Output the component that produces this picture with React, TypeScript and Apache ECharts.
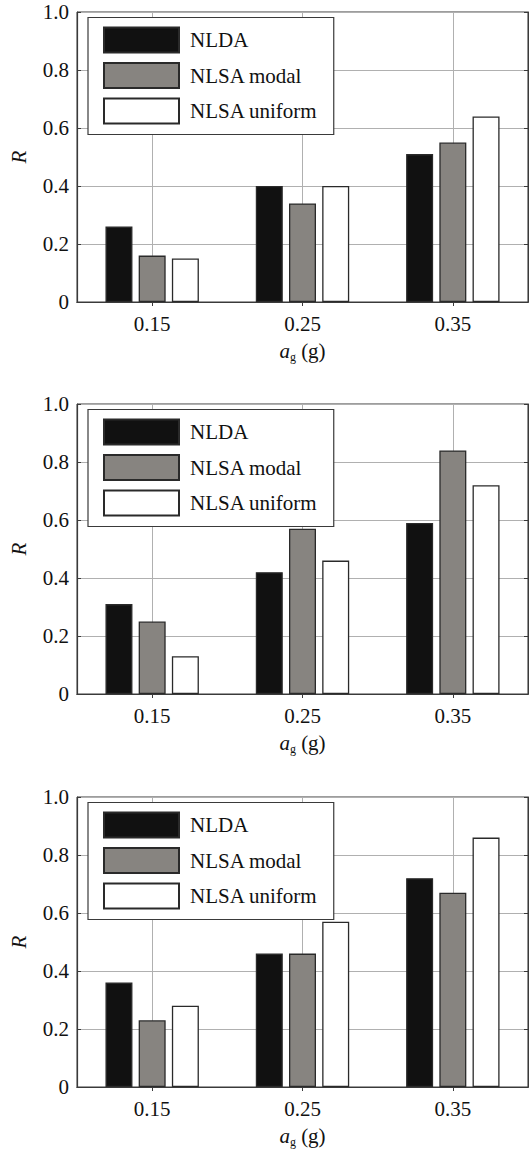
import React, { useEffect, useRef } from "react";
import * as echarts from "echarts";

const categories = ["0.15", "0.25", "0.35"];
const seriesNames = ["NLDA", "NLSA modal", "NLSA uniform"];

const p1NLDA = [0.26, 0.40, 0.51];
const p1Modal = [0.16, 0.34, 0.55];
const p1Uniform = [0.15, 0.40, 0.64];

const p2NLDA = [0.31, 0.42, 0.59];
const p2Modal = [0.25, 0.57, 0.84];
const p2Uniform = [0.13, 0.46, 0.72];

const p3NLDA = [0.36, 0.46, 0.72];
const p3Modal = [0.23, 0.46, 0.67];
const p3Uniform = [0.28, 0.57, 0.86];

const panels = [
  [p1NLDA, p1Modal, p1Uniform],
  [p2NLDA, p2Modal, p2Uniform],
  [p3NLDA, p3Modal, p3Uniform],
];

const gridTops = [12, 404, 797];
const barColors = ["#111111", "#878480", "#ffffff"];
const FONT = "'Liberation Serif', 'DejaVu Serif', serif";
const FS = 21;

export default function App() {
  const ref = useRef<HTMLDivElement>(null);
  useEffect(() => {
    if (!ref.current) return;
    const chart = echarts.init(ref.current, null, { renderer: "svg" });
    const grid: any[] = [];
    const xAxis: any[] = [];
    const yAxis: any[] = [];
    const series: any[] = [];
    const legend: any[] = [];
    panels.forEach((vals, p) => {
      grid.push({
        left: 77,
        right: 1,
        top: gridTops[p],
        height: 290,
        show: true,
        borderColor: "#3a3a3a",
        borderWidth: 1,
        backgroundColor: "transparent",
      });
      xAxis.push({
        type: "category",
        gridIndex: p,
        data: categories,
        position: "bottom",
        boundaryGap: true,
        axisLine: { show: true, lineStyle: { color: "#3a3a3a", width: 1.2 } },
        axisTick: { show: true, inside: true, length: 4, alignWithLabel: true, lineStyle: { color: "#3a3a3a" } },
        splitLine: { show: true, alignWithLabel: true, lineStyle: { color: "#b0b0b0", width: 1 } },
        axisLabel: { color: "#111", fontFamily: FONT, fontSize: FS, margin: 11 },
        name: "{a|a}{g|g}{t| (g)}",
        nameLocation: "middle",
        nameGap: 37,
        nameTextStyle: {
          rich: {
            a: { fontFamily: FONT, fontStyle: "italic", fontSize: FS, color: "#111" },
            g: { fontFamily: FONT, fontSize: 12, color: "#111", padding: [12, 0, 0, 0] },
            t: { fontFamily: FONT, fontSize: FS, color: "#111" },
          },
        },
      });
      xAxis.push({
        type: "category",
        gridIndex: p,
        data: categories,
        position: "top",
        boundaryGap: true,
        axisLine: { show: true, lineStyle: { color: "#3a3a3a", width: 1.2 } },
        axisTick: { show: true, inside: true, length: 4, alignWithLabel: true, lineStyle: { color: "#3a3a3a" } },
        splitLine: { show: false },
        axisLabel: { show: false },
      });
      yAxis.push({
        type: "value",
        gridIndex: p,
        min: 0,
        max: 1,
        interval: 0.2,
        position: "left",
        axisLine: { show: true, lineStyle: { color: "#3a3a3a", width: 1.2 } },
        axisTick: { show: true, inside: true, length: 4, lineStyle: { color: "#3a3a3a" } },
        splitLine: { show: true, lineStyle: { color: "#b0b0b0", width: 1 } },
        axisLabel: {
          color: "#111",
          fontFamily: FONT,
          fontSize: FS,
          margin: 8,
          formatter: (v: number) => (v === 0 ? "0" : v.toFixed(1)),
        },
        name: "R",
        nameLocation: "middle",
        nameGap: 48,
        nameRotate: 90,
        nameTextStyle: { fontFamily: FONT, fontStyle: "italic", fontSize: FS, color: "#111" },
      });
      yAxis.push({
        type: "value",
        gridIndex: p,
        min: 0,
        max: 1,
        interval: 0.2,
        position: "right",
        axisLine: { show: true, lineStyle: { color: "#3a3a3a", width: 1.2 } },
        axisTick: { show: true, inside: true, length: 4, lineStyle: { color: "#3a3a3a" } },
        splitLine: { show: false },
        axisLabel: { show: false },
      });
      vals.forEach((data, s) => {
        series.push({
          type: "bar",
          name: seriesNames[s],
          xAxisIndex: p * 2,
          yAxisIndex: p * 2,
          data,
          barWidth: 27,
          barGap: "23%",
          itemStyle: { color: barColors[s], borderColor: "#2a2a2a", borderWidth: 1.3 },
        });
      });
      legend.push({
        orient: "vertical",
        left: 88,
        top: gridTops[p] + 5.5,
        data: seriesNames,
        icon: "rect",
        itemWidth: 75,
        itemHeight: 25,
        itemGap: 8.5,
        padding: [9, 16, 10, 15],
        backgroundColor: "#ffffff",
        borderColor: "#3a3a3a",
        borderWidth: 1.2,
        borderRadius: 0,
        selectedMode: false,
        textStyle: { fontFamily: FONT, fontSize: FS, color: "#111", padding: [0, 0, 0, 6] },
      });
    });
    chart.setOption({
      animation: false,
      backgroundColor: "#ffffff",
      grid,
      xAxis,
      yAxis,
      series,
      legend,
    });
    return () => chart.dispose();
  }, []);
  return (
    <div
      ref={ref}
      style={{ position: "absolute", left: 0, top: 0, width: 529, height: 1151 }}
    />
  );
}
